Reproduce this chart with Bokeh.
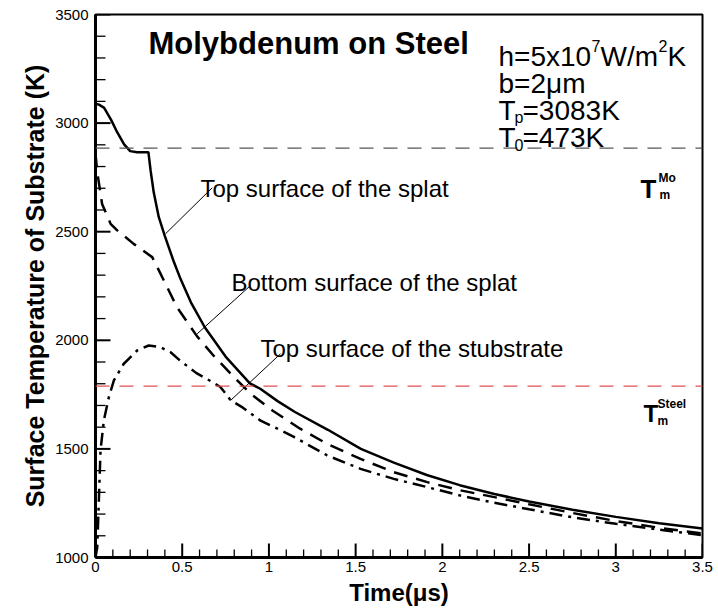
from bokeh.plotting import figure
from bokeh.models import Range1d, SingleIntervalTicker, Span, Label, Title, BoxAnnotation
from bokeh.embed import file_html
from bokeh.resources import INLINE

# ---- data ----
t_top_splat = [0, 0.02, 0.05, 0.09, 0.125, 0.165, 0.2, 0.24, 0.305, 0.318, 0.336, 0.365,
               0.40, 0.45, 0.49, 0.55, 0.63, 0.75, 0.89, 0.95, 1.05, 1.15, 1.34, 1.53,
               1.72, 1.91, 2.1, 2.3, 2.5, 2.75, 3.0, 3.25, 3.5]
T_top_splat = [3089, 3085, 3070, 3015, 2958, 2902, 2871, 2866, 2866, 2780, 2680, 2567,
               2480, 2365, 2283, 2175, 2060, 1925, 1802, 1777, 1720, 1670, 1588, 1500,
               1437, 1380, 1333, 1292, 1258, 1220, 1187, 1158, 1133]

t_bottom_splat = [0, 0.01, 0.038, 0.087, 0.125, 0.22, 0.26, 0.327, 0.356, 0.413, 0.47,
                  0.586, 0.68, 0.78, 0.894, 1.02, 1.18, 1.336, 1.528, 1.72, 1.913, 2.105,
                  2.3, 2.5, 2.75, 3.0, 3.25, 3.5]
T_bottom_splat = [2860, 2775, 2628, 2536, 2506, 2444, 2421, 2383, 2337, 2245, 2152,
                  2018, 1930, 1846, 1754, 1677, 1593, 1523, 1454, 1393, 1347, 1309,
                  1278, 1245, 1205, 1168, 1137, 1110]

t_top_sub = [0, 0.01, 0.02, 0.029, 0.048, 0.077, 0.106, 0.163, 0.24, 0.307, 0.375, 0.433,
             0.49, 0.58, 0.68, 0.72, 0.75, 0.78, 0.85, 0.952, 1.07, 1.144, 1.336, 1.528,
             1.72, 1.913, 2.105, 2.3, 2.5, 2.75, 3.0, 3.25, 3.5]
T_top_sub = [1000, 1047, 1278, 1493, 1631, 1738, 1815, 1892, 1953, 1976, 1968, 1945,
             1905, 1850, 1805, 1785, 1755, 1723, 1690, 1630, 1585, 1555, 1470, 1408,
             1362, 1324, 1285, 1252, 1222, 1185, 1155, 1128, 1103]

Tm_Mo = 2885
Tm_Steel = 1789

x_ticks = [0, 0.5, 1, 1.5, 2, 2.5, 3, 3.5]
x_tick_labels = ["0", "0.5", "1", "1.5", "2", "2.5", "3", "3.5"]
y_ticks = [1000, 1500, 2000, 2500, 3000, 3500]
y_tick_labels = ["1000", "1500", "2000", "2500", "3000", "3500"]
minor_per_major = 5

FONT = "Liberation Sans"

# frame geometry (pixels)
W, H = 718, 613
FL, FR, FT, FB = 95, 702, 14, 557
X0, X1, Y0, Y1 = 0, 3.5, 1000, 3500


def X(px):
    return X0 + (px - FL) / (FR - FL) * (X1 - X0)


def Y(py):
    return Y1 - (py - FT) / (FB - FT) * (Y1 - Y0)


def dx(npx):
    return npx / (FR - FL) * (X1 - X0)


def dy(npx):
    return npx / (FB - FT) * (Y1 - Y0)


p = figure(width=W, height=H,
           min_border_left=FL, min_border_right=W - FR,
           min_border_top=FT, min_border_bottom=H - FB,
           x_range=Range1d(X0, X1), y_range=Range1d(Y0, Y1),
           output_backend="svg", toolbar_location=None,
           background_fill_color="white", border_fill_color="white")

p.xgrid.visible = False
p.ygrid.visible = False
p.outline_line_color = "black"
p.outline_line_width = 2
p.outline_line_alpha = 1

p.xaxis.ticker = SingleIntervalTicker(interval=0.5, num_minor_ticks=5)
p.yaxis.ticker = SingleIntervalTicker(interval=500, num_minor_ticks=5)
p.xaxis.major_label_overrides = {float(k): v for k, v in zip(x_ticks, x_tick_labels)}
p.yaxis.major_label_overrides = {float(k): v for k, v in zip(y_ticks, y_tick_labels)}

for ax in (p.xaxis[0], p.yaxis[0]):
    ax.major_tick_in = 0
    ax.major_tick_out = 0
    ax.minor_tick_in = 0
    ax.minor_tick_out = 0
    ax.axis_line_width = 3
    ax.axis_line_color = "black"
    ax.major_label_text_font = FONT
    ax.major_label_text_font_size = "15px"
    ax.major_label_text_color = "black"
    ax.axis_label_text_font = FONT
    ax.axis_label_text_font_size = "24px"
    ax.axis_label_text_font_style = "bold"
    ax.axis_label_text_color = "black"

p.xaxis.axis_label = "Time(\u03bcs)"
p.xaxis.major_label_standoff = 4
p.yaxis.major_label_standoff = 7
p.xaxis.axis_label_standoff = 4

# y axis title, shifted slightly down as in the reference
p.add_layout(Title(text="Surface Temperature of Substrate (K)", align="center",
                   offset=-12, standoff=8, text_font=FONT, text_font_size="25px",
                   text_font_style="bold", text_color="black"), "left")


# inward ticks at the tick values
def minor_positions(major):
    out = []
    for a, b in zip(major[:-1], major[1:]):
        step = (b - a) / minor_per_major
        out += [a + step * k for k in range(1, minor_per_major)]
    return out


x_minor = minor_positions(x_ticks)
y_minor = minor_positions(y_ticks)

# x ticks as box annotations
for xs, half, length in ((x_ticks, 1.0, 14), (x_minor, 0.65, 8)):
    for xv in xs:
        p.add_layout(BoxAnnotation(left=xv - dx(half), right=xv + dx(half),
                                   bottom=Y0, top=Y0 + dy(length),
                                   fill_color="black", fill_alpha=1.0,
                                   line_color=None, level="overlay"))

# y ticks as thin bars
p.hbar(y=y_ticks, height=dy(2), left=X0, right=X0 + dx(15),
       fill_color="black", line_color=None, level="overlay")
p.hbar(y=y_minor, height=dy(1.3), left=X0, right=X0 + dx(10),
       fill_color="black", line_color=None, level="overlay")

# melting lines
p.add_layout(Span(location=Tm_Mo, dimension="width", line_color="#555555",
                  line_width=1.2, line_dash="14 10"))
p.add_layout(Span(location=Tm_Steel, dimension="width", line_color="#e05050",
                  line_width=1.2, line_dash="14 10"))

# curves
p.line(t_top_splat, T_top_splat, line_color="black", line_width=2.5)
p.line(t_bottom_splat, T_bottom_splat, line_color="black", line_width=2.5,
       line_dash="14 9")
p.line(t_top_sub, T_top_sub, line_color="black", line_width=2.5,
       line_dash="13 6 3 6")

# leader lines (pixel positions of the annotation pointers)
lead_px = [((211.7, 187.3), (165.0, 233.3)),
           ((250.0, 285.0), (196.7, 333.3)),
           ((280.0, 353.3), (230.0, 400.0))]
p.segment(x0=[X(a[0]) for a, b in lead_px], y0=[Y(a[1]) for a, b in lead_px],
          x1=[X(b[0]) for a, b in lead_px], y1=[Y(b[1]) for a, b in lead_px],
          line_color="black", line_width=1)


def txt(px, py, s, size, bold=False):
    p.add_layout(Label(x=X(px), y=Y(py), text=s, text_font=FONT,
                       text_font_size=f"{size}px",
                       text_font_style="bold" if bold else "normal",
                       text_color="black", text_baseline="alphabetic",
                       text_align="left"))


# title
txt(148, 43, "Molybdenum on Steel", 31, True)

# parameters
txt(498, 56, "h=5x10", 28)
txt(591, 45, "7", 16)
txt(600, 56, "W/m", 28)
txt(658, 45, "2", 16)
txt(667, 56, "K", 28)
txt(498, 83, "b=2\u03bcm", 28)
txt(498, 110, "T", 28)
txt(514, 117, "p", 16)
txt(522, 110, "=3083K", 28)
txt(498, 137, "T", 28)
txt(514, 144, "0", 16)
txt(522, 137, "=473K", 28)

# curve annotations
txt(200, 188, "Top surface of the splat", 24)
txt(231, 282, "Bottom surface of the splat", 24)
txt(260, 348, "Top surface of the stubstrate", 24)

# melting temperature labels
txt(640, 188, "T", 26, True)
txt(658, 177, "Mo", 12, True)
txt(659, 194, "m", 12, True)
txt(643, 413, "T", 24, True)
txt(657, 403, "Steel", 12, True)
txt(657, 420, "m", 12, True)

open("out.html", "w").write(file_html(p, INLINE))
